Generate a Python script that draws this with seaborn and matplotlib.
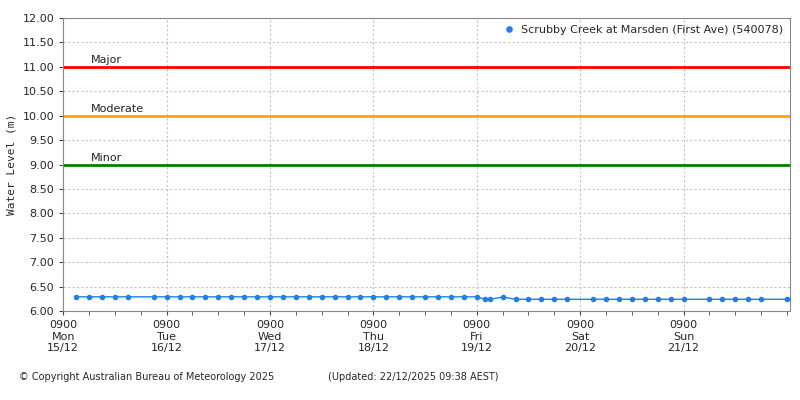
import numpy as np
import pandas as pd
import matplotlib
matplotlib.use("Agg")
import matplotlib.pyplot as plt
import seaborn as sns

# hours since Mon 15/12 09:00
hours = [3, 6, 9, 12, 15,
         21, 24, 27, 30, 33, 36, 39, 42, 45, 48, 51, 54, 57, 60, 63, 66, 69, 72,
         75, 78, 81, 84, 87, 90, 93, 96,
         98, 99, 102, 102,
         105, 108, 111, 114, 117,
         123, 126, 129, 132, 135, 138, 141, 144,
         150, 153, 156, 159, 162, 168]
levels = [6.29] * 31 + [6.24, 6.24, 6.24, 6.33] + [6.24] * 19
day_labels = ["0900\nMon\n15/12", "0900\nTue\n16/12", "0900\nWed\n17/12", "0900\nThu\n18/12",
              "0900\nFri\n19/12", "0900\nSat\n20/12", "0900\nSun\n21/12"]
thresholds = [("Major", 11.0, "#ff0000"), ("Moderate", 10.0, "#ffa500"), ("Minor", 9.0, "#008000")]

df = pd.DataFrame({"hours": hours, "level": levels})

sns.set_style("white")
plt.rcParams["font.family"] = ["DejaVu Sans"]
fig = plt.figure(figsize=(8, 4), dpi=100)
ax = fig.add_axes([0.079, 0.2225, 0.9085, 0.7325])

for name, y, c in thresholds:
    ax.axhline(y, color=c, lw=2, zorder=2)
    ax.text(6.5, y + 0.03, name, fontsize=8, va="bottom", ha="left", color="#222222")

sns.lineplot(data=df, x="hours", y="level", ax=ax, color="#1e7fe6", lw=1, sort=False,
             marker="o", markersize=4, markeredgewidth=0,
             label="Scrubby Creek at Marsden (First Ave) (540078)", zorder=3)

ax.set_xlim(0, 168.7)
ax.set_ylim(6, 12)
ax.set_yticks(np.arange(6, 12.01, 0.5))
ax.set_yticklabels([f"{v:.2f}" for v in np.arange(6, 12.01, 0.5)], fontsize=8)
ax.set_xticks(np.arange(0, 7) * 24)
ax.set_xticklabels(day_labels, fontsize=8)
ax.set_xticks(np.arange(0, 169, 6), minor=True)
ax.tick_params(which="both", direction="out", length=3, color="#444444", bottom=True, left=True)
ax.grid(True, which="major", linestyle=(0, (2, 2)), color="#c4c4c4", lw=0.8)
ax.set_xlabel("")
ax.set_ylabel("Water Level (m)", fontsize=8, family="monospace")
for s in ax.spines.values():
    s.set_color("#888888")
ax.legend(loc="upper right", fontsize=8, frameon=False, handlelength=0.6, markerscale=1.2,
          borderaxespad=0.2)
for h in ax.get_legend().legend_handles:
    h.set_linestyle("none")

fig.text(0.024, 0.05, "© Copyright Australian Bureau of Meteorology 2025", fontsize=7)
fig.text(0.41, 0.05, "(Updated: 22/12/2025 09:38 AEST)", fontsize=7)
fig.savefig("out.png", dpi=100)
